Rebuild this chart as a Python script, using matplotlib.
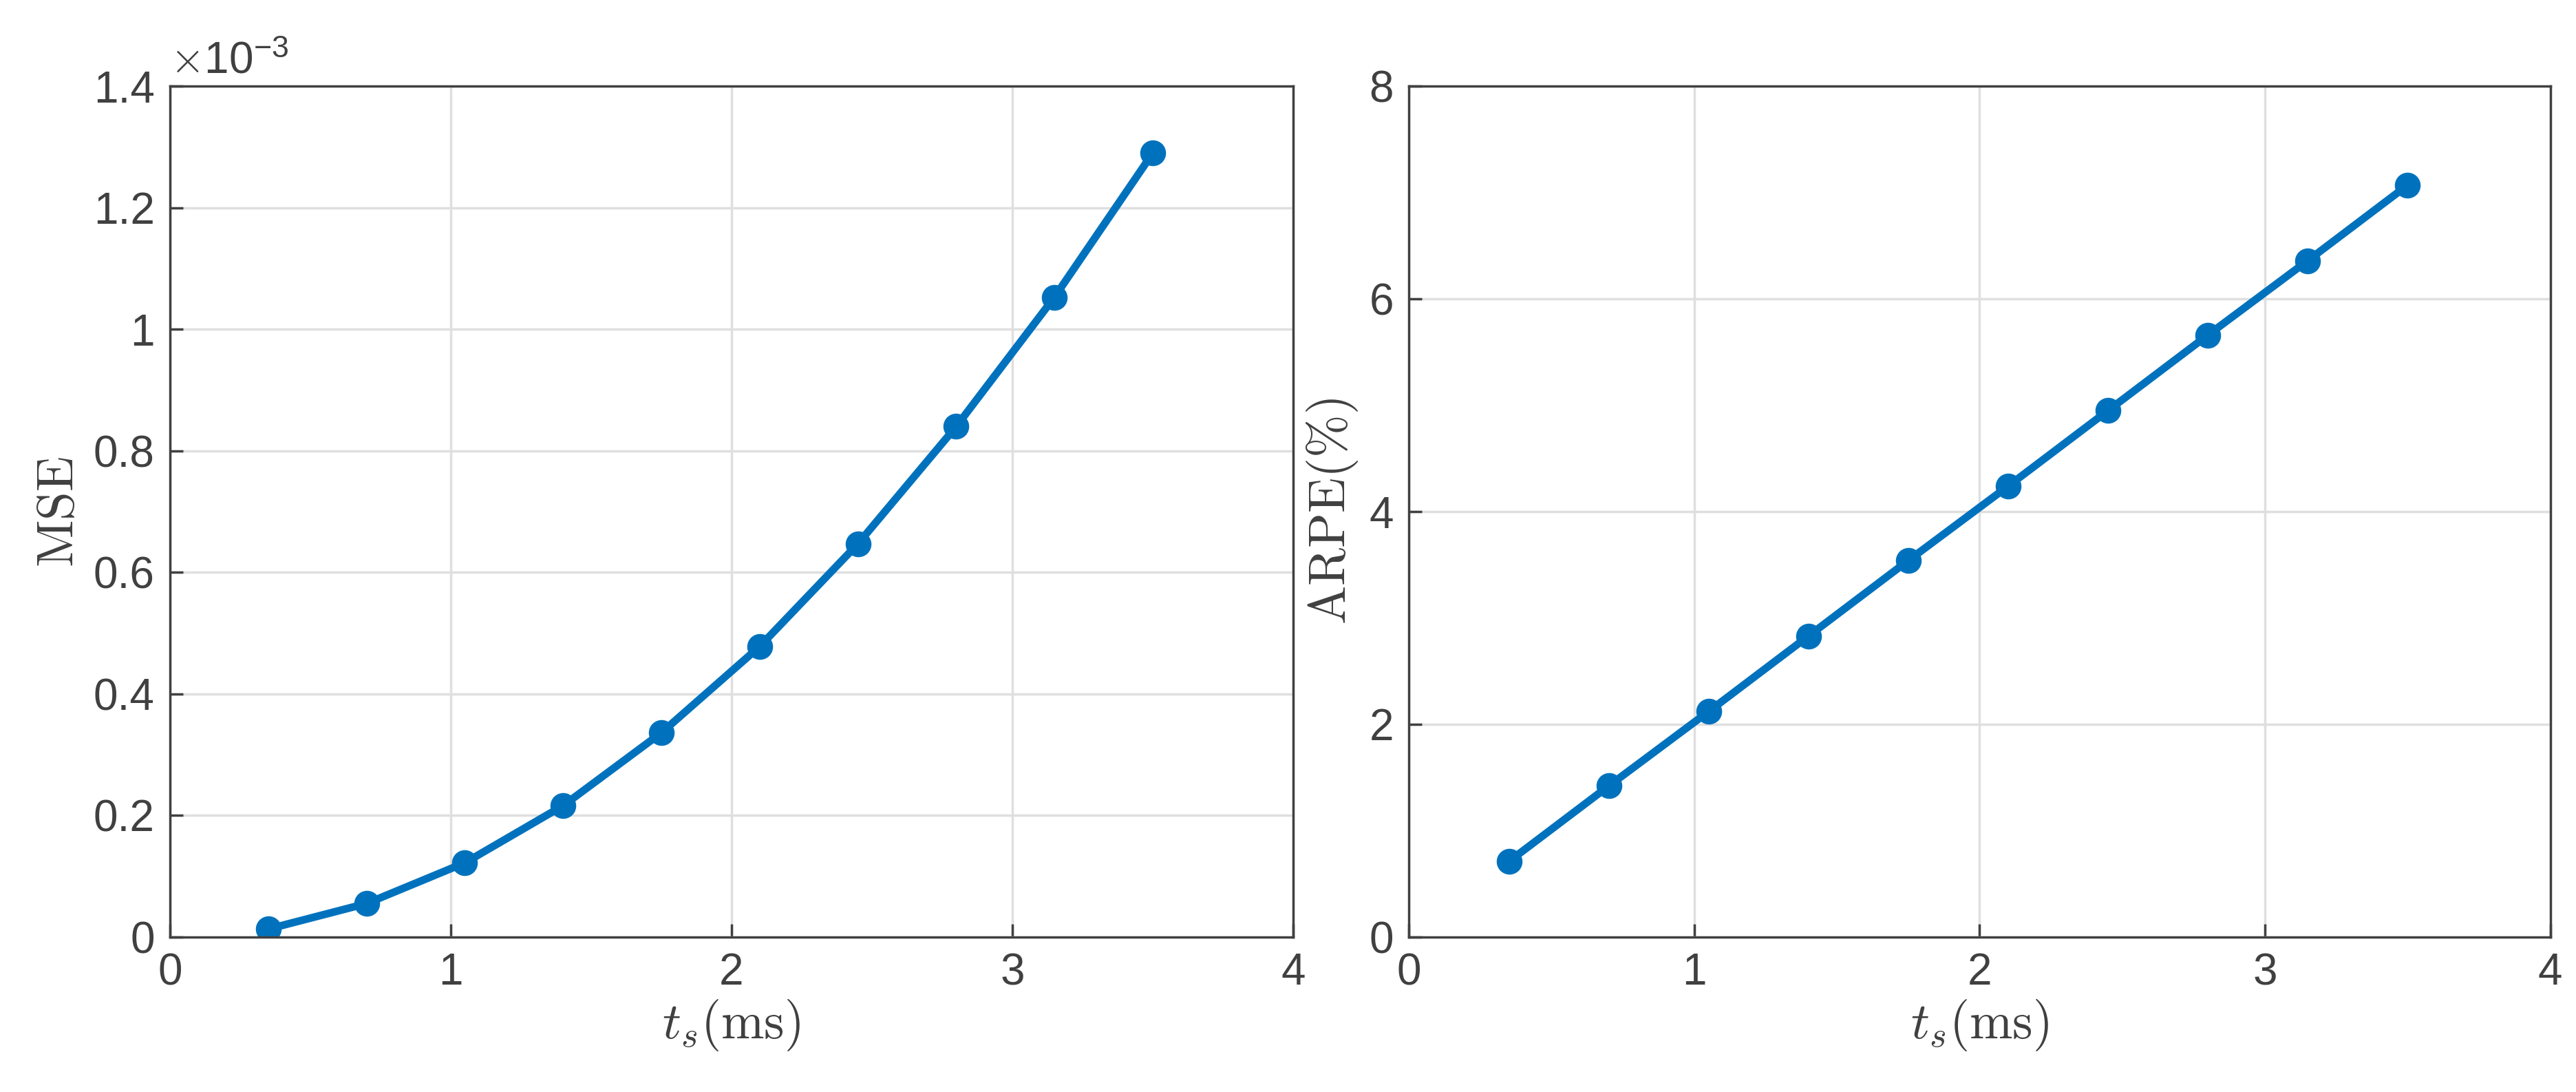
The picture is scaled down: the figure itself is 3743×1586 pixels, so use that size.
import matplotlib
matplotlib.use('Agg')
import matplotlib.pyplot as plt

ts = [0.35, 0.7, 1.05, 1.4, 1.75, 2.1, 2.45, 2.8, 3.15, 3.5]
mse = [0.013e-3, 0.055e-3, 0.122e-3, 0.216e-3, 0.336e-3, 0.478e-3, 0.647e-3, 0.840e-3, 1.053e-3, 1.290e-3]
arpe = [0.71, 1.42, 2.12, 2.83, 3.54, 4.24, 4.95, 5.66, 6.36, 7.07]

plt.rcParams['font.family'] = ['Liberation Sans', 'DejaVu Sans']
plt.rcParams['mathtext.fontset'] = 'cm'
col = '#0072BD'
tc = '#404040'

fig = plt.figure(figsize=(37.43, 15.86), dpi=100)
ax1 = fig.add_axes([0.066, 0.142, 0.436, 0.779])
ax2 = fig.add_axes([0.547, 0.142, 0.443, 0.779])

for ax, y, yl, ylim, yt in [(ax1, mse, r'$\mathrm{MSE}$', (0, 1.4e-3), [i*0.2e-3 for i in range(8)]),
                            (ax2, arpe, r'$\mathrm{ARPE}(\%)$', (0, 8), [0, 2, 4, 6, 8])]:
    ax.plot(ts, y, '-o', color=col, lw=8, ms=26)
    ax.set_xlim(0, 4)
    ax.set_ylim(*ylim)
    ax.set_xticks([0, 1, 2, 3, 4])
    ax.set_yticks(yt)
    ax.grid(True, color='#dfdfdf', lw=2.5)
    ax.set_axisbelow(True)
    ax.tick_params(labelsize=46, colors=tc, direction='in', length=14, width=2.5, pad=16)
    for s in ax.spines.values():
        s.set_color(tc); s.set_linewidth(2.5)
    ax.set_xlabel(r'$t_s(\mathrm{ms})$', fontsize=54, color=tc, labelpad=4)
    ax.set_ylabel(yl, fontsize=54, color=tc, labelpad=10)

ax1.set_yticklabels(['0', '0.2', '0.4', '0.6', '0.8', '1', '1.2', '1.4'])
ax1.text(0.0, 1.005, r'$\times\mathregular{10^{-3}}$', transform=ax1.transAxes,
         fontsize=46, color=tc, va='bottom', ha='left')

fig.savefig('out.png', dpi=100)
